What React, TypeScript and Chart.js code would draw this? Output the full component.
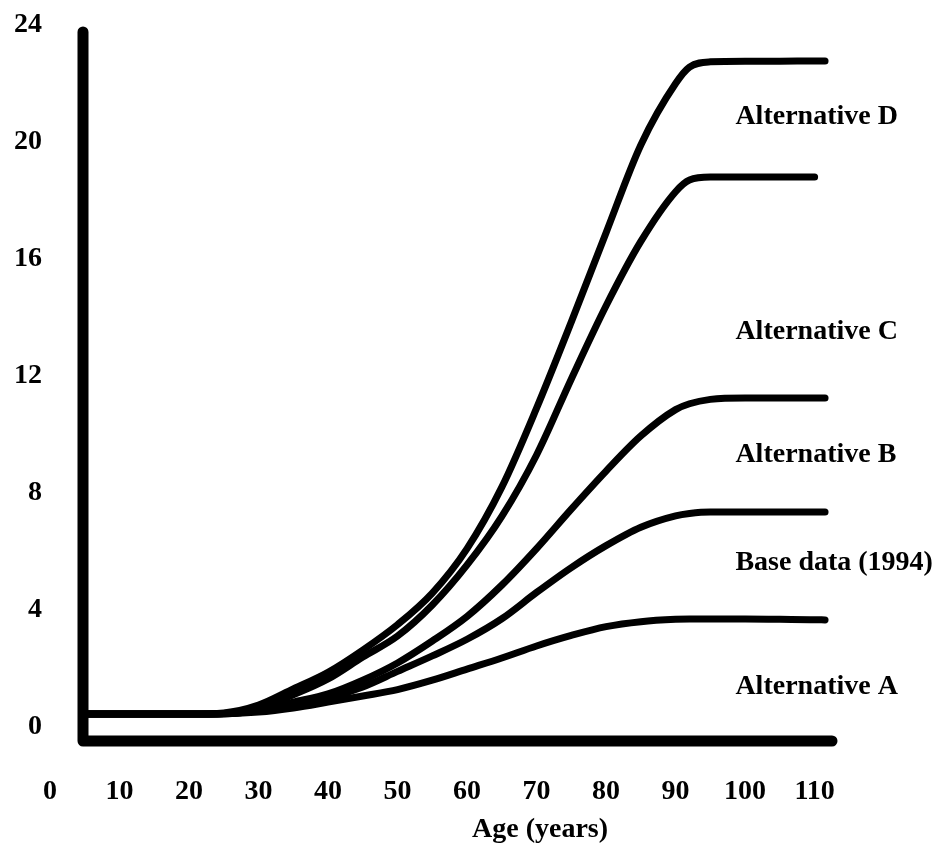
import React, { useEffect, useRef } from "react";
import { Chart, registerables } from "chart.js";

Chart.register(...registerables);

const ages = [4.75, 10, 15, 20, 25, 30, 35, 40, 45, 50, 55, 60, 65, 70, 75, 80, 85, 90, 92, 95, 100, 105, 110, 111.5];

const altD = [0.44, 0.44, 0.44, 0.44, 0.48, 0.75, 1.3, 1.87, 2.63, 3.5, 4.58, 6.1, 8.2, 10.9, 13.85, 16.9, 19.9, 22.0, 22.56, 22.74, 22.76, 22.76, 22.77, 22.77];
const altC = [0.44, 0.44, 0.44, 0.44, 0.46, 0.65, 1.1, 1.64, 2.39, 3.11, 4.17, 5.54, 7.2, 9.3, 11.9, 14.4, 16.6, 18.3, 18.7, 18.8, 18.8, 18.8, 18.8, null];
const altB = [0.44, 0.44, 0.44, 0.44, 0.45, 0.58, 0.85, 1.13, 1.6, 2.19, 2.94, 3.78, 4.85, 6.1, 7.45, 8.75, 9.95, 10.85, 11.05, 11.2, 11.25, 11.25, 11.25, 11.25];
const baseData = [0.44, 0.44, 0.44, 0.44, 0.45, 0.55, 0.75, 0.99, 1.37, 1.9, 2.43, 3.0, 3.7, 4.6, 5.45, 6.2, 6.83, 7.22, 7.3, 7.35, 7.35, 7.35, 7.35, 7.35];
const altA = [0.44, 0.44, 0.44, 0.44, 0.45, 0.51, 0.65, 0.85, 1.06, 1.28, 1.6, 1.98, 2.36, 2.77, 3.13, 3.43, 3.6, 3.68, 3.69, 3.69, 3.69, 3.68, 3.67, 3.66];

const xTickLabels = [0, 10, 20, 30, 40, 50, 60, 70, 80, 90, 100, 110];
const yTickLabels = [0, 4, 8, 12, 16, 20, 24];

const seriesNames = ["Alternative D", "Alternative C", "Alternative B", "Base data (1994)", "Alternative A"];
const seriesValues = [altD, altC, altB, baseData, altA];
// label anchor (age, value) for the text beside each curve
const labelAges = [98.6, 98.6, 98.6, 98.6, 98.6];
const labelValues = [20.85, 13.5, 9.3, 5.6, 1.37];

const xTitle = "Age (years)";

const FONT = '"Liberation Serif", "Times New Roman", serif';

const decorPlugin = {
  id: "decor",
  afterDatasetsDraw(chart: any) {
    const { ctx, chartArea } = chart;
    const xs = chart.scales.x;
    const ys = chart.scales.y;
    ctx.save();
    // axes
    ctx.strokeStyle = "#000";
    ctx.lineWidth = 11;
    ctx.lineCap = "round";
    ctx.lineJoin = "round";
    ctx.beginPath();
    ctx.moveTo(chartArea.left, chartArea.top);
    ctx.lineTo(chartArea.left, chartArea.bottom);
    ctx.lineTo(chartArea.right, chartArea.bottom);
    ctx.stroke();

    ctx.fillStyle = "#000";
    ctx.font = `bold 28px ${FONT}`;
    // y tick labels
    ctx.textAlign = "right";
    ctx.textBaseline = "middle";
    yTickLabels.forEach((v) => {
      ctx.fillText(String(v), 42, ys.getPixelForValue(v));
    });
    // x tick labels
    ctx.textAlign = "center";
    xTickLabels.forEach((v) => {
      ctx.fillText(String(v), xs.getPixelForValue(v), chartArea.bottom + 51);
    });
    // x title
    ctx.fillText(xTitle, xs.getPixelForValue(70.5), chartArea.bottom + 89);
    // series labels
    ctx.textAlign = "left";
    seriesNames.forEach((name, i) => {
      ctx.fillText(name, xs.getPixelForValue(labelAges[i]), ys.getPixelForValue(labelValues[i]));
    });
    ctx.restore();
  },
};

export default function App() {
  const ref = useRef<HTMLCanvasElement | null>(null);
  useEffect(() => {
    if (!ref.current) return;
    const chart = new Chart(ref.current, {
      type: "line",
      data: {
        labels: ages,
        datasets: seriesValues.map((vals, i) => ({
          label: seriesNames[i],
          data: vals.map((v, j) => ({ x: ages[j], y: v })),
          borderColor: "#000",
          borderWidth: 7,
          pointRadius: 0,
          fill: false,
          cubicInterpolationMode: "monotone" as const,
          borderCapStyle: "round" as const,
          borderJoinStyle: "round" as const,
          spanGaps: false,
        })),
      },
      options: {
        animation: false,
        responsive: true,
        maintainAspectRatio: false,
        layout: { padding: { left: 83, top: 32, right: 116, bottom: 111 } },
        plugins: { legend: { display: false }, tooltip: { enabled: false } },
        scales: {
          x: { type: "linear", min: 4.75, max: 112.5, display: false },
          y: { type: "linear", min: -0.479, max: 23.76, display: false },
        },
      },
      plugins: [decorPlugin],
    });
    return () => chart.destroy();
  }, []);
  return (
    <div style={{ position: "absolute", left: 0, top: 0, width: 948, height: 852, background: "#fff" }}>
      <canvas ref={ref} />
    </div>
  );
}
